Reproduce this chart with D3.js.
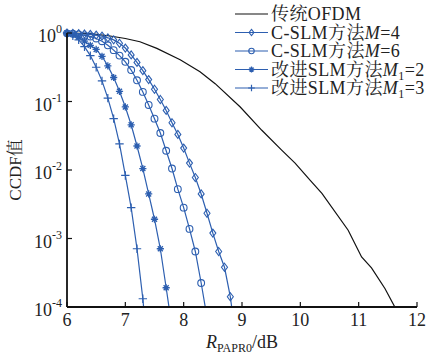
<!DOCTYPE html>
<html><head><meta charset="utf-8">
<script src="https://cdn.jsdelivr.net/npm/d3@7"></script>
<style>
html,body{margin:0;padding:0;background:#fff;}
svg text{font-family:"Liberation Serif","Times New Roman","Noto Serif CJK SC","Noto Sans CJK SC",serif;fill:#222;}
</style></head>
<body>
<svg id="chart" width="429" height="357"></svg>
<script>
// ---- data ----
const xTicks = [6,7,8,9,10,11,12];
const yTickExps = [0,-1,-2,-3,-4];

const ofdmX = [6.0,6.4,6.74,7.0,7.25,7.54,7.94,8.28,8.54,8.97,9.34,9.68,9.91,10.17,10.37,10.82,11.05,11.22,11.45,11.62];
const ofdmY = [1.0,0.977,0.904,0.832,0.746,0.597,0.407,0.272,0.182,0.0832,0.038,0.0195,0.0126,0.00708,0.00457,0.00132,0.000537,0.000372,0.000186,0.0001];

const m4X = [6.0,6.1,6.2,6.3,6.4,6.5,6.6,6.7,6.8,6.9,7.0,7.1,7.2,7.3,7.4,7.5,7.6,7.7,7.8,7.9,8.0,8.1,8.2,8.3,8.4,8.5,8.6,8.7,8.8,8.9];
const m4Y = [0.993,0.986,0.977,0.966,0.955,0.933,0.902,0.851,0.794,0.708,0.603,0.479,0.372,0.282,0.209,0.151,0.107,0.0741,0.049,0.0331,0.0209,0.0126,0.00776,0.00447,0.00234,0.0012,0.000646,0.00038,0.000141,0.0000316];

const m6X = [6.0,6.1,6.2,6.3,6.4,6.5,6.6,6.7,6.8,6.9,7.0,7.1,7.2,7.3,7.4,7.5,7.6,7.7,7.8,7.9,8.0,8.1,8.2,8.3,8.4];
const m6Y = [0.989,0.977,0.955,0.923,0.891,0.832,0.759,0.661,0.562,0.468,0.38,0.288,0.204,0.138,0.0891,0.0562,0.0347,0.0191,0.0105,0.00525,0.00282,0.00138,0.000646,0.000224,0.0000708];

const m12X = [6.0,6.1,6.2,6.3,6.4,6.5,6.6,6.7,6.8,6.9,7.0,7.1,7.2,7.3,7.4,7.5,7.6,7.7,7.8];
const m12Y = [1.0,0.955,0.871,0.759,0.661,0.575,0.457,0.331,0.224,0.141,0.0832,0.0457,0.0224,0.0105,0.00447,0.00191,0.000708,0.000191,0.0000501];

const m13X = [6.0,6.1,6.2,6.3,6.4,6.5,6.6,6.7,6.8,6.9,7.0,7.1,7.2,7.3,7.4];
const m13Y = [1.0,0.912,0.794,0.631,0.468,0.316,0.2,0.112,0.0562,0.024,0.00832,0.00282,0.000708,0.000132,0.0000158];

const seriesNames = ["传统OFDM","C-SLM方法M=4","C-SLM方法M=6","改进SLM方法M1=2","改进SLM方法M1=3"];

// ---- chart ----
const svg = d3.select("#chart");
const L = 67, R = 417, T = 33, B = 307;
const x = d3.scaleLinear().domain([6,12]).range([L,R]);
const y = d3.scaleLog().domain([1e-4,1]).range([B,T]);
const blue = "#2d5fb0";

svg.append("defs").append("clipPath").attr("id","clip")
  .append("rect").attr("x",L).attr("y",20).attr("width",R-L+5).attr("height",B-20);

const line = d3.line().x(d=>x(d[0])).y(d=>y(d[1]));
const zip = (a,b)=>a.map((v,i)=>[v,b[i]]);

const series = [
  {data:zip(ofdmX,ofdmY), color:"#111", marker:null},
  {data:zip(m4X,m4Y), color:blue, marker:"diamond"},
  {data:zip(m6X,m6Y), color:blue, marker:"circle"},
  {data:zip(m12X,m12Y), color:blue, marker:"star"},
  {data:zip(m13X,m13Y), color:blue, marker:"plus"}
];

function drawMarker(g, type, cx, cy, color, s){
  if(type==="diamond"){
    g.append("path").attr("d",`M${cx},${cy-s}L${cx+s*0.75},${cy}L${cx},${cy+s}L${cx-s*0.75},${cy}Z`)
     .attr("fill","none").attr("stroke",color).attr("stroke-width",1.1);
  } else if(type==="circle"){
    g.append("circle").attr("cx",cx).attr("cy",cy).attr("r",s*0.85)
     .attr("fill","none").attr("stroke",color).attr("stroke-width",1.1);
  } else if(type==="star"){
    const r=s*0.9;
    g.append("path").attr("d",`M${cx-r},${cy}H${cx+r}M${cx},${cy-r}V${cy+r}M${cx-r*0.7},${cy-r*0.7}L${cx+r*0.7},${cy+r*0.7}M${cx-r*0.7},${cy+r*0.7}L${cx+r*0.7},${cy-r*0.7}`)
     .attr("stroke",color).attr("stroke-width",1.3).attr("fill","none");
    g.append("circle").attr("cx",cx).attr("cy",cy).attr("r",s*0.4).attr("fill",color);
  } else if(type==="plus"){
    const r=s*1.05;
    g.append("path").attr("d",`M${cx-r},${cy}H${cx+r}M${cx},${cy-r}V${cy+r}`)
     .attr("stroke",color).attr("stroke-width",1.2).attr("fill","none");
  }
}

const plot = svg.append("g");
series.forEach(s=>{
  plot.append("path").datum(s.data).attr("d",line).attr("fill","none")
    .attr("stroke",s.color).attr("stroke-width",1.2).attr("clip-path","url(#clip)");
});
series.forEach(s=>{
  if(!s.marker) return;
  const g = plot.append("g");
  s.data.filter(d=>d[1]>=1e-4).forEach(d=>drawMarker(g,s.marker,x(d[0]),y(d[1]),s.color,4));
});

// axes
const ax = svg.append("g");
ax.append("line").attr("x1",L).attr("x2",R).attr("y1",B).attr("y2",B).attr("stroke","#111").attr("stroke-width",1.8);
ax.append("line").attr("x1",L).attr("x2",L).attr("y1",T).attr("y2",B).attr("stroke","#111").attr("stroke-width",1.8);
xTicks.forEach(t=>{
  ax.append("line").attr("x1",x(t)).attr("x2",x(t)).attr("y1",B).attr("y2",B-5).attr("stroke","#111").attr("stroke-width",1.2);
  ax.append("text").attr("x",x(t)).attr("y",B+19).attr("text-anchor","middle").attr("font-size",18).text(t);
});
yTickExps.forEach(e=>{
  const yy = y(Math.pow(10,e));
  ax.append("line").attr("x1",L).attr("x2",L+5).attr("y1",yy).attr("y2",yy).attr("stroke","#111").attr("stroke-width",1.2);
  const t = ax.append("text").attr("x",62).attr("y",yy+9).attr("text-anchor","end").attr("font-size",18);
  t.append("tspan").text("10");
  t.append("tspan").attr("dy",-9).attr("font-size",12).text(e===0?"0":"-"+(-e));
});

// axis titles
const xt = svg.append("text").attr("x",242).attr("y",348).attr("text-anchor","middle").attr("font-size",18);
xt.append("tspan").attr("font-style","italic").text("R");
xt.append("tspan").attr("dy",4).attr("font-size",12).text("PAPR0");
xt.append("tspan").attr("dy",-4).text("/dB");

svg.append("text").attr("transform","translate(21,170) rotate(-90)").attr("text-anchor","middle")
  .attr("font-size",17).text("CCDF值");

// legend
const lg = svg.append("g");
const ly0 = 14, ldy = 18.5;
series.forEach((s,i)=>{
  const yy = ly0 + i*ldy;
  lg.append("line").attr("x1",235).attr("x2",268).attr("y1",yy).attr("y2",yy).attr("stroke",s.color).attr("stroke-width",1.2);
  if(s.marker) drawMarker(lg,s.marker,251.5,yy,s.color,3.2);
  const t = lg.append("text").attr("x",271).attr("y",yy+6).attr("font-size",18).attr("letter-spacing",0.4);
  const nm = seriesNames[i];
  if(i===0){ t.text(nm); }
  else if(i<=2){
    t.append("tspan").text(nm.slice(0,nm.indexOf("M=")));
    t.append("tspan").attr("font-style","italic").text("M");
    t.append("tspan").text(nm.slice(nm.indexOf("M=")+1));
  } else {
    t.append("tspan").text(nm.slice(0,nm.indexOf("M1=")));
    t.append("tspan").attr("font-style","italic").text("M");
    t.append("tspan").attr("dy",4).attr("font-size",12).text("1");
    t.append("tspan").attr("dy",-4).text(nm.slice(nm.indexOf("M1=")+2));
  }
});
</script>
</body></html>
